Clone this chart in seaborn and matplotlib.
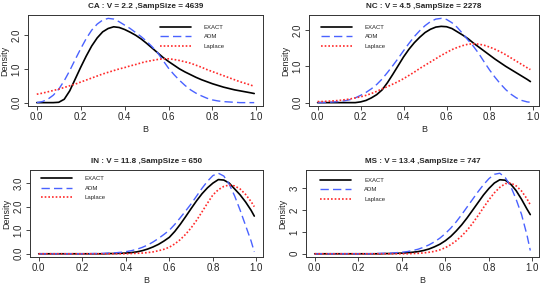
import numpy as np
import pandas as pd
import matplotlib
matplotlib.use("Agg")
import matplotlib.pyplot as plt
import seaborn as sns

B = [0.000, 0.025, 0.050, 0.075, 0.100, 0.125, 0.150, 0.175, 0.200, 0.225,
     0.250, 0.275, 0.300, 0.325, 0.350, 0.375, 0.400, 0.425, 0.450, 0.475,
     0.500, 0.525, 0.550, 0.575, 0.600, 0.625, 0.650, 0.675, 0.700, 0.725,
     0.750, 0.775, 0.800, 0.825, 0.850, 0.875, 0.900, 0.925, 0.950, 0.975,
     0.990]

titles = ["CA : V = 2.2 ,SampSize = 4639", "NC : V = 4.5 ,SampSize = 2278",
          "IN : V = 11.8 ,SampSize = 650", "MS : V = 13.4 ,SampSize = 747"]

ca_exact = [0.0, 0.0, 0.0, 0.0, 0.01, 0.1, 0.35, 0.7, 1.05, 1.38,
            1.68, 1.92, 2.1, 2.2, 2.25, 2.23, 2.17, 2.09, 2.0, 1.89,
            1.76, 1.62, 1.48, 1.34, 1.22, 1.11, 1.0, 0.91, 0.83, 0.75,
            0.68, 0.62, 0.56, 0.51, 0.46, 0.42, 0.38, 0.35, 0.32, 0.29,
            0.27]
ca_adm = [0.0, 0.03, 0.1, 0.22, 0.4, 0.65, 0.95, 1.28, 1.6, 1.9,
          2.15, 2.33, 2.45, 2.5, 2.48, 2.4, 2.3, 2.2, 2.08, 1.96,
          1.82, 1.66, 1.48, 1.25, 1.02, 0.83, 0.66, 0.51, 0.38, 0.28,
          0.2, 0.13, 0.08, 0.05, 0.03, 0.02, 0.01, 0.0, 0.0, 0.0,
          0.0]
ca_laplace = [0.25, 0.28, 0.32, 0.36, 0.4, 0.45, 0.5, 0.55, 0.61, 0.67,
              0.73, 0.79, 0.85, 0.9, 0.95, 1.0, 1.04, 1.09, 1.13, 1.18,
              1.22, 1.25, 1.28, 1.3, 1.3, 1.28, 1.25, 1.21, 1.17, 1.11,
              1.05, 0.98, 0.92, 0.86, 0.8, 0.74, 0.68, 0.62, 0.57, 0.52,
              0.48]

nc_exact = [0.0, 0.0, 0.0, 0.0, 0.0, 0.0, 0.0, 0.0, 0.02, 0.06,
            0.13, 0.22, 0.35, 0.55, 0.78, 1.02, 1.26, 1.47, 1.65, 1.8,
            1.93, 2.02, 2.08, 2.1, 2.09, 2.04, 1.95, 1.86, 1.76, 1.64,
            1.53, 1.42, 1.31, 1.2, 1.1, 1.0, 0.91, 0.82, 0.73, 0.64,
            0.58]
nc_adm = [0.0, 0.0, 0.01, 0.02, 0.03, 0.05, 0.08, 0.13, 0.2, 0.28,
          0.38, 0.5, 0.65, 0.83, 1.02, 1.22, 1.43, 1.63, 1.82, 1.98,
          2.12, 2.23, 2.3, 2.32, 2.29, 2.2, 2.07, 1.9, 1.72, 1.55,
          1.35, 1.12, 0.9, 0.7, 0.52, 0.36, 0.23, 0.13, 0.06, 0.02,
          0.01]
nc_laplace = [0.03, 0.03, 0.04, 0.05, 0.06, 0.08, 0.1, 0.13, 0.16, 0.2,
              0.25, 0.31, 0.38, 0.44, 0.51, 0.58, 0.66, 0.75, 0.84, 0.94,
              1.03, 1.12, 1.21, 1.3, 1.38, 1.46, 1.52, 1.57, 1.61, 1.62,
              1.61, 1.58, 1.53, 1.47, 1.4, 1.32, 1.23, 1.14, 1.05, 0.96,
              0.91]

in_exact = [0.0, 0.0, 0.0, 0.0, 0.0, 0.0, 0.0, 0.0, 0.0, 0.0,
            0.0, 0.0, 0.0, 0.01, 0.01, 0.02, 0.03, 0.05, 0.08, 0.13,
            0.2, 0.29, 0.4, 0.54, 0.7, 0.95, 1.25, 1.58, 1.92, 2.25,
            2.55, 2.8, 3.0, 3.15, 3.13, 3.0, 2.75, 2.5, 2.2, 1.85,
            1.6]
in_adm = [0.0, 0.0, 0.0, 0.0, 0.0, 0.0, 0.0, 0.0, 0.0, 0.0,
          0.01, 0.01, 0.02, 0.03, 0.04, 0.06, 0.09, 0.13, 0.19, 0.27,
          0.37, 0.5, 0.65, 0.82, 1.0, 1.25, 1.53, 1.82, 2.12, 2.45,
          2.78, 3.08, 3.32, 3.42, 3.3, 2.95, 2.45, 1.85, 1.2, 0.55,
          0.08]
in_laplace = [0.0, 0.0, 0.0, 0.0, 0.0, 0.0, 0.0, 0.0, 0.0, 0.0,
              0.0, 0.0, 0.0, 0.0, 0.0, 0.0, 0.0, 0.01, 0.02, 0.03,
              0.05, 0.08, 0.13, 0.19, 0.28, 0.42, 0.6, 0.83, 1.1, 1.42,
              1.78, 2.15, 2.5, 2.72, 2.86, 2.92, 2.88, 2.75, 2.52, 2.22,
              2.0]

ms_exact = [0.0, 0.0, 0.0, 0.0, 0.0, 0.0, 0.0, 0.0, 0.0, 0.0,
            0.0, 0.0, 0.0, 0.01, 0.01, 0.02, 0.03, 0.05, 0.07, 0.1,
            0.15, 0.22, 0.32, 0.44, 0.6, 0.8, 1.05, 1.33, 1.65, 2.0,
            2.35, 2.7, 3.0, 3.25, 3.4, 3.38, 3.2, 2.9, 2.5, 2.05,
            1.8]
ms_adm = [0.0, 0.0, 0.0, 0.0, 0.0, 0.0, 0.0, 0.0, 0.0, 0.0,
          0.0, 0.01, 0.02, 0.02, 0.03, 0.05, 0.07, 0.1, 0.15, 0.21,
          0.3, 0.41, 0.55, 0.72, 0.93, 1.18, 1.47, 1.8, 2.15, 2.5,
          2.85, 3.17, 3.45, 3.65, 3.7, 3.5, 3.1, 2.5, 1.8, 0.85,
          0.15]
ms_laplace = [0.0, 0.0, 0.0, 0.0, 0.0, 0.0, 0.0, 0.0, 0.0, 0.0,
              0.0, 0.0, 0.0, 0.0, 0.0, 0.0, 0.0, 0.0, 0.01, 0.02,
              0.04, 0.07, 0.11, 0.18, 0.28, 0.42, 0.6, 0.82, 1.08, 1.4,
              1.75, 2.12, 2.48, 2.8, 3.05, 3.22, 3.25, 3.12, 2.88, 2.52,
              2.25]

panels = [
    (ca_exact, ca_adm, ca_laplace, [0.0, 1.0, 2.0], ["0.0", "1.0", "2.0"]),
    (nc_exact, nc_adm, nc_laplace, [0.0, 1.0, 2.0], ["0.0", "1.0", "2.0"]),
    (in_exact, in_adm, in_laplace, [0, 1, 2, 3], ["0.0", "1.0", "2.0", "3.0"]),
    (ms_exact, ms_adm, ms_laplace, [0, 1, 2, 3], ["0", "1", "2", "3"]),
]

# axes boxes in pixels: left, right, top, bottom
boxes = [(28, 263, 15, 106), (309, 539, 15, 106),
         (30, 263, 170, 257), (306, 539, 170, 257)]
legend_anchor = [(0.545, 0.935), (0.035, 0.935), (0.03, 0.975), (0.045, 0.955)]

sns.set_style("ticks")
plt.rcParams["font.family"] = ["Liberation Sans", "DejaVu Sans"]

W, H = 542, 285
fig = plt.figure(figsize=(W / 100, H / 100), dpi=100)

series_style = [("EXACT", "black", "-", 1.2),
                ("ADM", "#4a62ff", (0, (6, 3)), 1.0),
                ("Laplace", "#ff2a2a", (0, (1, 1.2)), 1.2)]

for i, (exact, adm, lap, yt, ytl) in enumerate(panels):
    l, r, t, b = boxes[i]
    ax = fig.add_axes([l / W, 1 - b / H, (r - l) / W, (b - t) / H])
    df = pd.DataFrame({"B": B, "EXACT": exact, "ADM": adm, "Laplace": lap})
    for name, col, ls, lw in series_style:
        sns.lineplot(data=df, x="B", y=name, ax=ax, color=col, linestyle=ls,
                     linewidth=lw, label=name)
    ymax = max(max(exact), max(adm), max(lap))
    ax.set_xlim(-0.04, 1.03)
    ax.set_ylim(-0.04 * ymax, ymax * 1.04)
    ax.set_xticks([0.0, 0.2, 0.4, 0.6, 0.8, 1.0])
    ax.set_xticklabels(["0.0", "0.2", "0.4", "0.6", "0.8", "1.0"], fontsize=7)
    ax.set_yticks(yt)
    ax.set_yticklabels(ytl, fontsize=7, rotation=90, va="center")
    ax.tick_params(length=3, width=0.6, pad=1.5)
    for sp in ax.spines.values():
        sp.set_visible(True)
        sp.set_linewidth(0.7)
        sp.set_color("#333333")
    ax.set_xlabel("B", fontsize=6.5, labelpad=2)
    ax.set_ylabel("Density", fontsize=6.5, labelpad=2)
    ax.set_title(titles[i], fontsize=5.9, fontweight="bold", pad=5)
    ax.legend(loc="upper left", bbox_to_anchor=legend_anchor[i], frameon=False,
              fontsize=4.3, handlelength=5.2, handletextpad=2.2,
              labelspacing=0.75, borderaxespad=0.2)

fig.savefig("out.png", dpi=100)
